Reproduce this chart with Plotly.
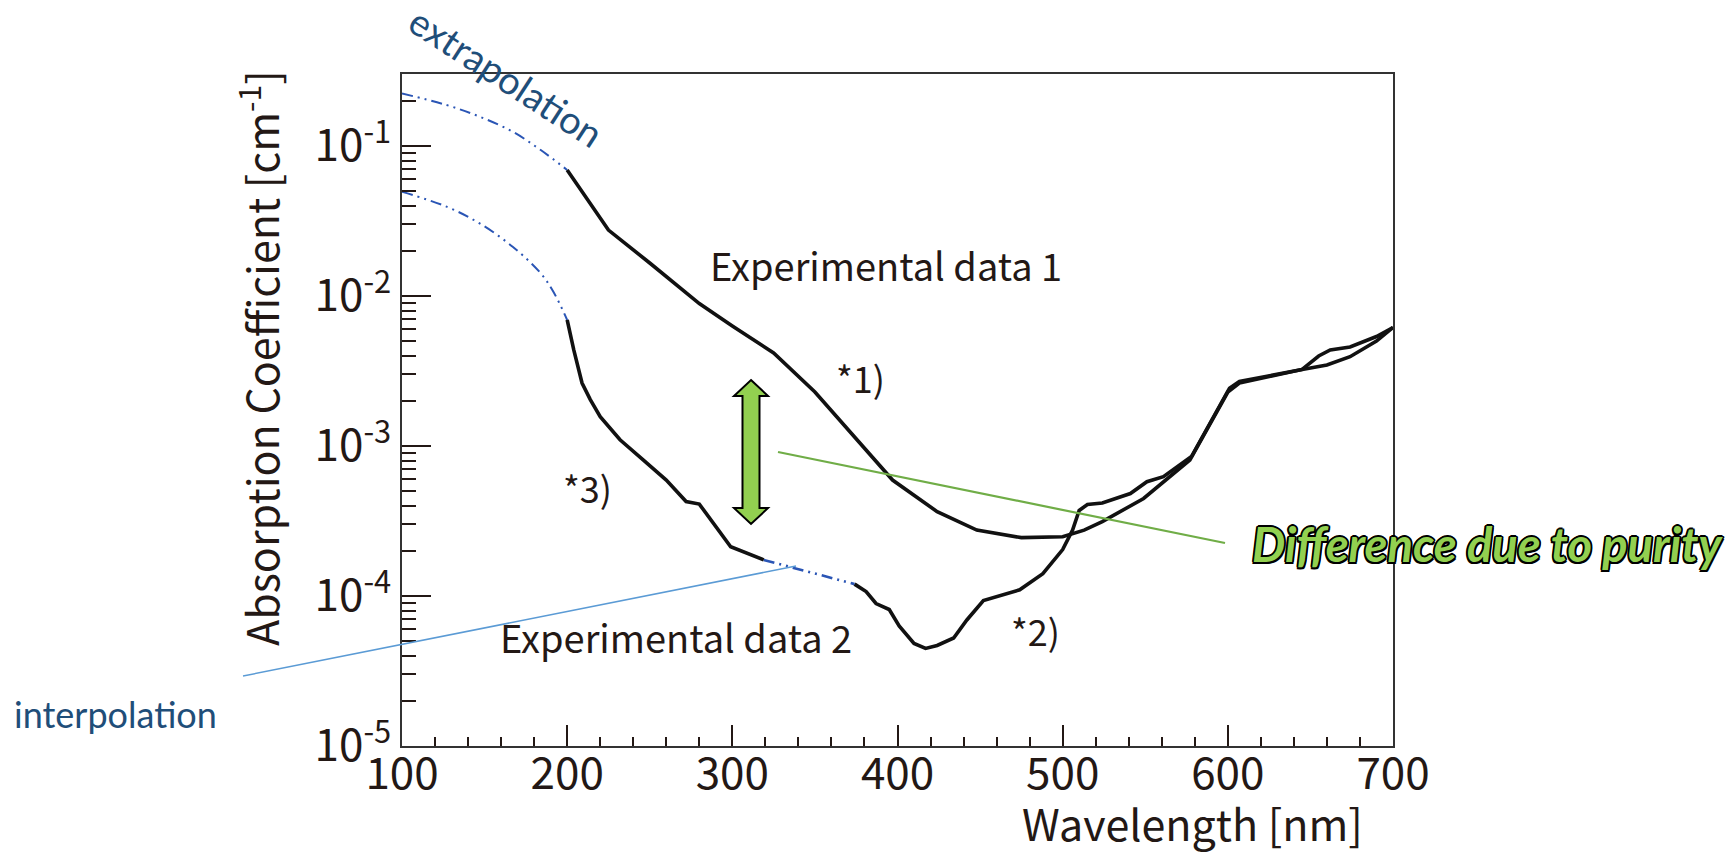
import plotly.graph_objects as go

# ---------------- data ----------------
wl_ext1 = [100, 127, 147, 167, 184, 200]
ac_ext1 = [0.224, 0.1875, 0.157, 0.1245, 0.094, 0.0692]

wl_ext2 = [100, 127, 147, 167, 184, 192, 200]
ac_ext2 = [0.0495, 0.0394, 0.0305, 0.0213, 0.01416, 0.0105, 0.00692]

wl_data1 = [200, 225, 250, 280, 300, 325, 350, 372, 397, 424, 448, 475, 500, 513, 524,
            549, 565, 577, 600, 607, 645, 655, 662, 674, 690, 700]
ac_data1 = [0.0692, 0.0275, 0.0166, 0.00891, 0.00631, 0.00417, 0.00229, 0.00122, 5.93e-4,
            3.65e-4, 2.75e-4, 2.45e-4, 2.48e-4, 2.75e-4, 3.13e-4, 4.47e-4, 6.24e-4, 8.07e-4,
            2.29e-3, 2.63e-3, 3.24e-3, 3.98e-3, 4.37e-3, 4.57e-3, 5.37e-3, 6.17e-3]

wl_data2a = [200, 204, 209, 214, 220, 232, 246, 260, 272, 280, 299, 319]
ac_data2a = [6.92e-3, 4.37e-3, 2.63e-3, 2.04e-3, 1.57e-3, 1.10e-3, 8.07e-4, 5.93e-4,
             4.26e-4, 4.10e-4, 2.13e-4, 1.74e-4]

wl_interp2 = [319, 346, 374]
ac_interp2 = [1.74e-4, 1.45e-4, 1.20e-4]

wl_data2b = [374, 381, 387, 395, 401, 410, 417, 424, 434, 442, 452, 460, 474, 488, 500,
             506, 510, 515, 524, 541, 551, 561, 578, 601, 607, 645, 660, 674, 690, 700]
ac_data2b = [1.20e-4, 1.07e-4, 8.91e-5, 8.13e-5, 6.31e-5, 4.83e-5, 4.47e-5, 4.68e-5,
             5.25e-5, 6.92e-5, 9.33e-5, 9.89e-5, 1.10e-4, 1.41e-4, 2.04e-4, 2.75e-4,
             3.72e-4, 4.07e-4, 4.17e-4, 4.82e-4, 5.78e-4, 6.24e-4, 8.51e-4, 2.43e-3,
             2.69e-3, 3.24e-3, 3.47e-3, 3.94e-3, 5.01e-3, 6.17e-3]

x_ticks = [100, 200, 300, 400, 500, 600, 700]
y_ticks = [1e-5, 1e-4, 1e-3, 1e-2, 1e-1]
y_ticktext = ["10<sup>-5</sup>", "10<sup>-4</sup>", "10<sup>-3</sup>", "10<sup>-2</sup>", "10<sup>-1</sup>"]

# ---------------- styling ----------------
W, H = 1732, 858
L, R, T, B = 402, 1393, 74, 746
FONT = "Noto Sans CJK JP"
TXT = "#231815"
BLACK = "#111111"
BLUE_DASH = "#2a55b5"


def px(X, Y):
    return (X - L) / (R - L), (B - Y) / (B - T)


fig = go.Figure()
dashpat = "11px,5px,2px,5px,2px,5px"
fig.add_trace(go.Scatter(x=wl_ext1, y=ac_ext1, mode="lines", line=dict(color=BLUE_DASH, width=2, dash=dashpat, shape="spline")))
fig.add_trace(go.Scatter(x=wl_ext2, y=ac_ext2, mode="lines", line=dict(color=BLUE_DASH, width=2, dash=dashpat, shape="spline")))
fig.add_trace(go.Scatter(x=wl_interp2, y=ac_interp2, mode="lines", line=dict(color=BLUE_DASH, width=2.6, dash=dashpat)))
fig.add_trace(go.Scatter(x=wl_data1, y=ac_data1, mode="lines", line=dict(color=BLACK, width=3.6)))
fig.add_trace(go.Scatter(x=wl_data2a, y=ac_data2a, mode="lines", line=dict(color=BLACK, width=3.6)))
fig.add_trace(go.Scatter(x=wl_data2b, y=ac_data2b, mode="lines", line=dict(color=BLACK, width=3.6)))

minor_y = [k * 10.0 ** e for e in range(-5, 0) for k in range(2, 10)]

axis_common = dict(showgrid=False, zeroline=False, showline=True, linecolor="#333333",
                   linewidth=2, mirror=True, ticks="inside", tickcolor="#231815", tickwidth=2,
                   tickfont=dict(family=FONT, size=44, color=TXT))

fig.update_xaxes(range=[100, 700], tickmode="array", tickvals=x_ticks, ticklen=21,
                 ticklabelstandoff=-12,
                 minor=dict(ticks="inside", dtick=20, ticklen=9, tickwidth=2, tickcolor="#231815"),
                 **axis_common)
fig.update_yaxes(type="log", range=[-5, -0.52], tickmode="array", tickvals=y_ticks,
                 ticktext=y_ticktext, ticklen=29,
                 minor=dict(ticks="inside", tickvals=minor_y, ticklen=14, tickwidth=2, tickcolor="#231815"),
                 **axis_common)

ann = []


def add_text(text, X, Y, size, color=TXT, family=FONT, xanchor="center", angle=0, **kw):
    x, y = px(X, Y)
    ann.append(dict(text=text, x=x, y=y, xref="paper", yref="paper", showarrow=False,
                    xanchor=xanchor, yanchor="middle", textangle=angle,
                    font=dict(family=family, size=size, color=color, **kw)))


add_text("Absorption Coefficient [cm<sup>-1</sup>]", 258, 358, 43, angle=-90)
add_text("Wavelength [nm]", 1365, 822, 43, xanchor="right")
add_text("Experimental data 1", 886, 264, 38)
add_text("Experimental data 2", 676, 636, 38)
add_text("*1)", 860, 377, 36)
add_text("*2)", 1035, 630, 36)
add_text("*3)", 587, 487, 36)
add_text("interpolation", 12, 714, 36, color="#1f4e79", family="Lato", xanchor="left")
add_text("extrapolation", 506, 76, 38, color="#1f4e79", family="Lato", angle=33)
add_text("Difference due to purity", 1487, 544, 47, color="#92d050", family="Lato",
         weight="bold", style="italic",
         shadow="-1.5px -1.5px 0 #000, 1.5px -1.5px 0 #000, -1.5px 1.5px 0 #000, 1.5px 1.5px 0 #000, 0 1.8px 0 #000, 0 -1.8px 0 #000, 1.8px 0 0 #000, -1.8px 0 0 #000")

shapes = []
# leader lines
x0, y0 = px(778, 452)
x1, y1 = px(1225, 543)
shapes.append(dict(type="line", xref="paper", yref="paper", x0=x0, y0=y0, x1=x1, y1=y1,
                   line=dict(color="#70ad47", width=2.2)))
x0, y0 = px(243, 676)
x1, y1 = px(796, 566)
shapes.append(dict(type="line", xref="paper", yref="paper", x0=x0, y0=y0, x1=x1, y1=y1,
                   line=dict(color="#5b9bd5", width=1.5)))
# double-headed block arrow
cx, top, bot = 751, 380, 524
hw, sw, hh = 17, 8.5, 16
pts = [(cx, top), (cx + hw, top + hh), (cx + sw, top + hh), (cx + sw, bot - hh), (cx + hw, bot - hh),
       (cx, bot), (cx - hw, bot - hh), (cx - sw, bot - hh), (cx - sw, top + hh), (cx - hw, top + hh)]
path = "M " + " L ".join("{:.5f},{:.5f}".format(*px(a, b)) for a, b in pts) + " Z"
shapes.append(dict(type="path", xref="paper", yref="paper", path=path,
                   fillcolor="#92d050", line=dict(color="#000000", width=2)))

fig.update_layout(width=W, height=H, margin=dict(l=L, r=W - R, t=T, b=H - B, pad=0),
                  paper_bgcolor="white", plot_bgcolor="white", showlegend=False,
                  annotations=ann, shapes=shapes)

fig.write_html("out.html")
